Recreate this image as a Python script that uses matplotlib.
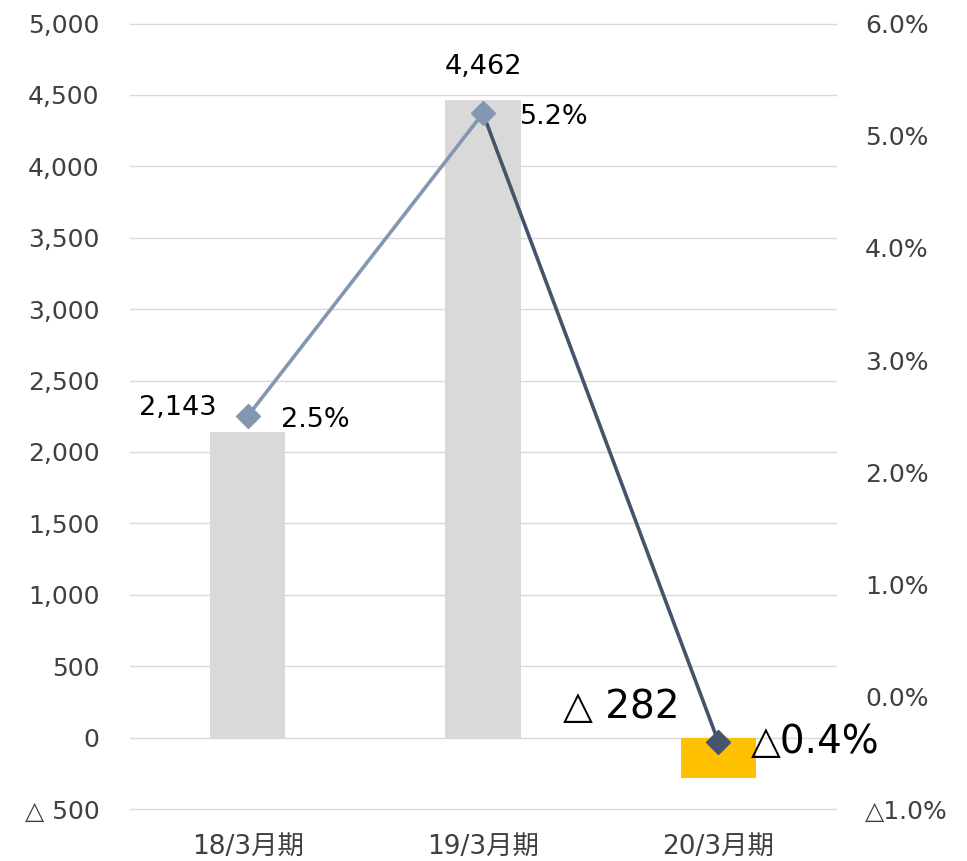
import matplotlib
matplotlib.use("Agg")
import matplotlib.pyplot as plt

categories = ["18/3月期", "19/3月期", "20/3月期"]
profit = [2143, 4462, -282]
margin = [2.5, 5.2, -0.4]
profit_labels = ["2,143", "4,462", "△ 282"]
margin_labels = ["2.5%", "5.2%", "△0.4%"]
left_ticks = [-500, 0, 500, 1000, 1500, 2000, 2500, 3000, 3500, 4000, 4500, 5000]
left_ticklabels = ["△ 500", "0", "500", "1,000", "1,500", "2,000", "2,500", "3,000",
                   "3,500", "4,000", "4,500", "5,000"]
right_ticks = [-1.0, 0.0, 1.0, 2.0, 3.0, 4.0, 5.0, 6.0]
right_ticklabels = ["△1.0%", "0.0%", "1.0%", "2.0%", "3.0%", "4.0%", "5.0%", "6.0%"]

FAM = ["DejaVu Sans", "Noto Sans CJK JP"]
plt.rcParams["font.family"] = FAM

bar_colors = ["#D9D9D9", "#D9D9D9", "#FFC000"]
light = "#8497B0"
dark = "#44546A"
tick_color = "#404040"

fig = plt.figure(figsize=(9.67, 8.61), dpi=100)
ax = fig.add_axes([0.1344, 0.0604, 0.7301, 0.9123])
x = list(range(len(categories)))
ax.bar(x, profit, width=0.32, color=bar_colors, zorder=2)
ax.set_xlim(-0.5, 2.5)
ax.set_ylim(-500, 5000)
ax.set_yticks(left_ticks)
ax.set_yticklabels(left_ticklabels)
ax.set_xticks(x)
ax.set_xticklabels(categories)
ax.grid(axis="y", color="#D9D9D9", linewidth=1.0, zorder=0)
for gl in ax.yaxis.get_gridlines():
    gl.set_clip_on(False)
ax.set_axisbelow(True)
for s in ax.spines.values():
    s.set_visible(False)
ax.tick_params(axis="y", length=0, pad=22, labelsize=18, labelcolor=tick_color)
ax.tick_params(axis="x", length=0, pad=18, labelsize=19, labelcolor=tick_color)

ax2 = ax.twinx()
ax2.set_ylim(-1.0, 6.0)
ax2.set_yticks(right_ticks)
ax2.set_yticklabels(right_ticklabels)
for s in ax2.spines.values():
    s.set_visible(False)
ax2.tick_params(axis="y", length=0, pad=21, labelsize=18, labelcolor=tick_color)

ax2.plot(x[0:2], margin[0:2], color=light, linewidth=2.6, zorder=3)
ax2.plot(x[1:3], margin[1:3], color=dark, linewidth=2.6, zorder=3)
mcols = [light, light, dark]
for xi, m, c in zip(x, margin, mcols):
    ax2.plot([xi], [m], marker="D", markersize=12, color=c, zorder=4, linestyle="none")

# profit labels
ax2.annotate(profit_labels[0], (x[0], margin[0]), xytext=(-50, 6), textcoords="offset points",
             ha="center", va="center", fontsize=19.5, color="#000000")
ax.annotate(profit_labels[1], (x[1], profit[1]), xytext=(0, 24), textcoords="offset points",
            ha="center", va="center", fontsize=19.5, color="#000000")
ax.annotate(profit_labels[2], (x[2], 0), xytext=(-70, 22), textcoords="offset points",
            ha="center", va="center", fontsize=28, color="#000000")
# margin labels
ax2.annotate(margin_labels[0], (x[0], margin[0]), xytext=(49, -3), textcoords="offset points",
             ha="center", va="center", fontsize=19.5, color="#000000")
ax2.annotate(margin_labels[1], (x[1], margin[1]), xytext=(51, -3), textcoords="offset points",
             ha="center", va="center", fontsize=19.5, color="#000000")
ax2.annotate(margin_labels[2], (x[2], margin[2]), xytext=(70, 0), textcoords="offset points",
             ha="center", va="center", fontsize=28, color="#000000")

fig.savefig("out.png", dpi=100)
